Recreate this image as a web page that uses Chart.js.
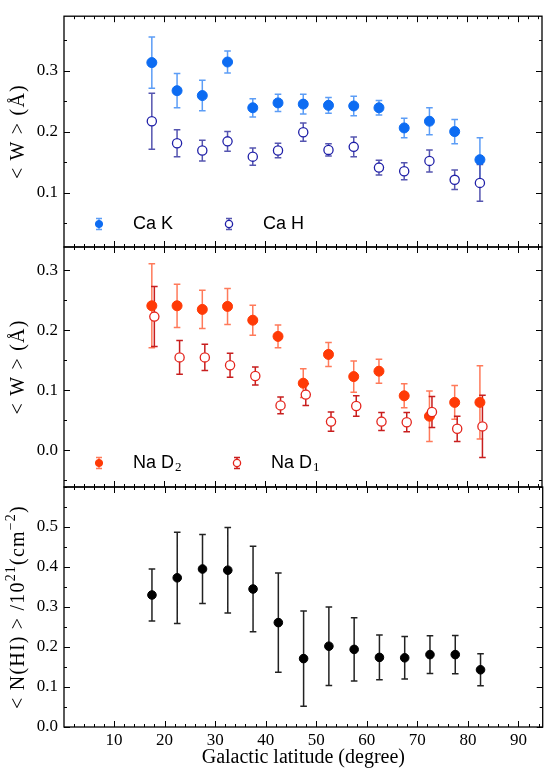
<!DOCTYPE html>
<html>
<head>
<meta charset="utf-8">
<script src="https://cdn.jsdelivr.net/npm/chart.js@4.4.1/dist/chart.umd.min.js"></script>
<style>
html, body { margin: 0; padding: 0; background: #fff; }
#wrap { position: relative; width: 548px; height: 770px; }
#wrap canvas { position: absolute; left: 0; top: 0; }
</style>
</head>
<body>
<div id="wrap">
  <canvas id="caChart" width="548" height="770"></canvas>
  <canvas id="naChart" width="548" height="770"></canvas>
  <canvas id="hiChart" width="548" height="770"></canvas>
</div>
<script>
// Galactic latitude bins
const latitudes   = [17.5, 22.5, 27.5, 32.5, 37.5, 42.5, 47.5, 52.5, 57.5, 62.5, 67.5, 72.5, 77.5, 82.5];
const latitudesD1 = [18, 23, 28, 33, 38, 43, 48, 53, 58, 63, 68, 73, 78, 83];

// Ca II K / H equivalent widths (Å)
const caK    = [0.313, 0.267, 0.259, 0.314, 0.239, 0.247, 0.245, 0.243, 0.242, 0.239, 0.206, 0.217, 0.200, 0.154];
const caKErr = [0.042, 0.028, 0.025, 0.018, 0.015, 0.014, 0.016, 0.013, 0.016, 0.012, 0.016, 0.022, 0.020, 0.036];
const caH    = [0.217, 0.181, 0.169, 0.184, 0.159, 0.169, 0.199, 0.170, 0.175, 0.141, 0.135, 0.152, 0.121, 0.116];
const caHErr = [0.046, 0.022, 0.017, 0.016, 0.014, 0.012, 0.015, 0.010, 0.016, 0.012, 0.014, 0.018, 0.016, 0.030];

// Na I D2 / D1 equivalent widths (Å)
const naD2    = [0.241, 0.241, 0.235, 0.240, 0.217, 0.190, 0.112, 0.160, 0.123, 0.132, 0.091, 0.057, 0.080, 0.080];
const naD2Err = [0.070, 0.036, 0.032, 0.030, 0.025, 0.019, 0.024, 0.020, 0.026, 0.020, 0.020, 0.042, 0.028, 0.061];
const naD1    = [0.223, 0.155, 0.155, 0.142, 0.124, 0.075, 0.093, 0.048, 0.074, 0.048, 0.047, 0.064, 0.036, 0.040];
const naD1Err = [0.050, 0.028, 0.022, 0.020, 0.015, 0.014, 0.018, 0.016, 0.017, 0.015, 0.016, 0.026, 0.021, 0.052];

// N(HI) in 10^21 cm^-2
const nHI    = [0.330, 0.373, 0.395, 0.392, 0.345, 0.261, 0.171, 0.202, 0.194, 0.174, 0.173, 0.181, 0.181, 0.143];
const nHIErr = [0.065, 0.114, 0.086, 0.107, 0.107, 0.124, 0.119, 0.098, 0.079, 0.056, 0.053, 0.047, 0.048, 0.040];

// tick labels
const xTicks   = [10, 20, 30, 40, 50, 60, 70, 80, 90];
const yTicksCa = [0.1, 0.2, 0.3];
const yTicksNa = [0.0, 0.1, 0.2, 0.3];
const yTicksHI = [0.0, 0.1, 0.2, 0.3, 0.4, 0.5];

const SERIF = '"Liberation Serif", "DejaVu Serif", serif';
const SANS = '"Liberation Sans", Arial, sans-serif';

function pts(xs, ys) {
    return xs.map((x, i) => ({ x: x, y: ys[i] }));
}

// error bars under the markers
const errorBars = {
    id: 'errorBars',
    beforeDatasetsDraw(chart) {
        const ctx = chart.ctx;
        const xs = chart.scales.x, ys = chart.scales.y;
        chart.data.datasets.forEach(ds => {
            if (!ds.errors) return;
            ctx.save();
            ctx.strokeStyle = ds.errorColor;
            ctx.lineWidth = 1.5;
            ctx.beginPath();
            ds.data.forEach((p, j) => {
                const e = ds.errors[j];
                const px = xs.getPixelForValue(p.x);
                const t = ys.getPixelForValue(p.y + e);
                const b = ys.getPixelForValue(p.y - e);
                ctx.moveTo(px, t); ctx.lineTo(px, b);
                ctx.moveTo(px - 3.3, t); ctx.lineTo(px + 3.3, t);
                ctx.moveTo(px - 3.3, b); ctx.lineTo(px + 3.3, b);
            });
            ctx.stroke();
            ctx.restore();
        });
    }
};

// box with inward major/minor ticks on all four sides
const frameTicks = {
    id: 'frameTicks',
    afterDraw(chart, args, opts) {
        const ctx = chart.ctx;
        const a = chart.chartArea;
        const x = chart.scales.x, y = chart.scales.y;
        ctx.save();
        ctx.strokeStyle = '#000';
        ctx.lineWidth = 1;
        ctx.beginPath();
        const vtick = (v, len) => {
            const p = Math.round(x.getPixelForValue(v)) + 0.5;
            ctx.moveTo(p, a.bottom); ctx.lineTo(p, a.bottom - len);
            ctx.moveTo(p, a.top); ctx.lineTo(p, a.top + len);
        };
        const htick = (v, len) => {
            const p = Math.round(y.getPixelForValue(v)) + 0.5;
            ctx.moveTo(a.left, p); ctx.lineTo(a.left + len, p);
            ctx.moveTo(a.right, p); ctx.lineTo(a.right - len, p);
        };
        for (let i = Math.ceil(x.min / opts.xMinor); i * opts.xMinor <= x.max; i++) vtick(i * opts.xMinor, 3);
        xTicks.forEach(v => vtick(v, 6));
        for (let i = Math.ceil(y.min / opts.yMinor - 1e-6); i * opts.yMinor <= y.max + 1e-9; i++) htick(i * opts.yMinor, 3);
        opts.yMajor.forEach(v => htick(v, 6));
        ctx.stroke();
        ctx.lineWidth = 1.3;
        ctx.strokeRect(a.left, a.top, a.right - a.left, a.bottom - a.top);
        ctx.restore();
    }
};

// rotated y title with real superscripts
const sideTitle = {
    id: 'sideTitle',
    afterDraw(chart, args, opts) {
        const ctx = chart.ctx;
        const a = chart.chartArea;
        const fontFor = p => (p.sup ? opts.supSize : opts.size) + 'px ' + SERIF;
        ctx.save();
        ctx.translate(opts.x, (a.top + a.bottom) / 2);
        ctx.rotate(-Math.PI / 2);
        ctx.fillStyle = '#000';
        ctx.textBaseline = 'middle';
        ctx.letterSpacing = opts.spacing + 'px';
        let total = 0;
        opts.parts.forEach(p => { ctx.font = fontFor(p); total += ctx.measureText(p.text).width; });
        let cx = -total / 2;
        opts.parts.forEach(p => {
            ctx.font = fontFor(p);
            ctx.fillText(p.text, cx, p.sup ? -opts.size * 0.38 : 0);
            cx += ctx.measureText(p.text).width;
        });
        ctx.restore();
    }
};

// small legend inside the panel
const panelLegend = {
    id: 'panelLegend',
    afterDraw(chart, args, opts) {
        const ctx = chart.ctx;
        (opts.items || []).forEach(it => {
            const ds = chart.data.datasets[it.index];
            ctx.save();
            ctx.strokeStyle = ds.errorColor;
            ctx.lineWidth = 1.5;
            ctx.beginPath();
            ctx.moveTo(it.x, it.y - 5.5); ctx.lineTo(it.x, it.y + 5.5);
            ctx.moveTo(it.x - 3, it.y - 5.5); ctx.lineTo(it.x + 3, it.y - 5.5);
            ctx.moveTo(it.x - 3, it.y + 5.5); ctx.lineTo(it.x + 3, it.y + 5.5);
            ctx.stroke();
            ctx.beginPath();
            ctx.arc(it.x, it.y, 3.6, 0, Math.PI * 2);
            ctx.fillStyle = ds.backgroundColor;
            ctx.fill();
            ctx.lineWidth = ds.borderWidth;
            ctx.strokeStyle = ds.borderColor;
            ctx.stroke();
            ctx.fillStyle = '#000';
            ctx.font = '18px ' + SANS;
            ctx.textBaseline = 'middle';
            ctx.fillText(ds.label, it.textX, it.y);
            if (ds.labelSub) {
                const w = ctx.measureText(ds.label).width;
                ctx.font = '13px ' + SERIF;
                ctx.fillText(ds.labelSub, it.textX + w + 1, it.y + 5);
            }
            ctx.restore();
        });
    }
};

function makePanel(id, cfg) {
    return new Chart(document.getElementById(id), {
        type: 'scatter',
        data: { datasets: cfg.datasets },
        options: {
            responsive: false,
            animation: false,
            events: [],
            layout: { padding: { top: cfg.top, bottom: cfg.bottom, left: 0, right: 2 } },
            plugins: {
                legend: { display: false },
                tooltip: { enabled: false },
                frameTicks: { xMinor: 2, yMinor: 0.05, yMajor: cfg.yTicks },
                sideTitle: { parts: cfg.yTitle, x: 19, size: 20, supSize: 14, spacing: 1.2 },
                panelLegend: { items: cfg.legend }
            },
            scales: {
                x: {
                    type: 'linear',
                    min: 0.1,
                    max: 94.8,
                    display: cfg.showX,
                    afterBuildTicks: s => { s.ticks = xTicks.map(v => ({ value: v })); },
                    afterFit: s => { if (cfg.showX) s.height = 43; },
                    grid: { display: false, drawTicks: false },
                    border: { display: false },
                    ticks: {
                        padding: 3, color: '#000', maxRotation: 0, autoSkip: false,
                        font: { family: SERIF, size: 17 }
                    },
                    title: {
                        display: true, text: 'Galactic latitude (degree)', color: '#000',
                        font: { family: SERIF, size: 20 }, padding: { top: 0, bottom: 0 }
                    }
                },
                y: {
                    min: cfg.yMin,
                    max: cfg.yMax,
                    afterBuildTicks: s => { s.ticks = cfg.yTicks.map(v => ({ value: v })); },
                    afterFit: s => { s.width = 64; },
                    grid: { display: false, drawTicks: false },
                    border: { display: false },
                    ticks: {
                        padding: 6, color: '#000',
                        font: { family: SERIF, size: 17 },
                        callback: v => Number(v).toFixed(1)
                    },
                    title: { display: false }
                }
            }
        },
        plugins: [errorBars, frameTicks, sideTitle, panelLegend]
    });
}

// Панель 1: Ca II
makePanel('caChart', {
    top: 8, bottom: 523, showX: false,
    yMin: 0.011, yMax: 0.389, yTicks: yTicksCa,
    yTitle: [{ text: '< W > (Å)' }],
    datasets: [
        {
            label: 'Ca K', data: pts(latitudes, caK), errors: caKErr, errorColor: '#5c9df6',
            pointRadius: 5, backgroundColor: '#0d6cf2', borderColor: '#0d6cf2', borderWidth: 1, order: 2
        },
        {
            label: 'Ca H', data: pts(latitudes, caH), errors: caHErr, errorColor: '#5555b0',
            pointRadius: 4.6, backgroundColor: '#ffffff', borderColor: '#2020a8', borderWidth: 1.3, order: 1
        }
    ],
    legend: [
        { index: 0, x: 99, y: 224, textX: 133 },
        { index: 1, x: 229, y: 224, textX: 263 }
    ]
});

// Панель 2: Na I
makePanel('naChart', {
    top: 247, bottom: 283, showX: false,
    yMin: -0.061, yMax: 0.339, yTicks: yTicksNa,
    yTitle: [{ text: '< W > (Å)' }],
    datasets: [
        {
            label: 'Na D', labelSub: '2', data: pts(latitudes, naD2), errors: naD2Err, errorColor: '#ff7a5a',
            pointRadius: 5, backgroundColor: '#ff3a06', borderColor: '#ff3a06', borderWidth: 1, order: 2
        },
        {
            label: 'Na D', labelSub: '1', data: pts(latitudesD1, naD1), errors: naD1Err, errorColor: '#c81e1e',
            pointRadius: 4.6, backgroundColor: '#ffffff', borderColor: '#e4241c', borderWidth: 1.3, order: 1
        }
    ],
    legend: [
        { index: 0, x: 99, y: 463, textX: 133 },
        { index: 1, x: 237, y: 463, textX: 271 }
    ]
});

// Панель 3: N(HI)
makePanel('hiChart', {
    top: 487, bottom: 0, showX: true,
    yMin: 0, yMax: 0.6, yTicks: yTicksHI,
    yTitle: [
        { text: '< N(HI) > /10' }, { text: '21', sup: true },
        { text: '(cm' }, { text: '−2', sup: true }, { text: ')' }
    ],
    datasets: [
        {
            label: 'N(HI)', data: pts(latitudes, nHI), errors: nHIErr, errorColor: '#222222',
            pointRadius: 4.3, backgroundColor: '#000000', borderColor: '#000000', borderWidth: 1
        }
    ],
    legend: []
});
</script>
</body>
</html>
